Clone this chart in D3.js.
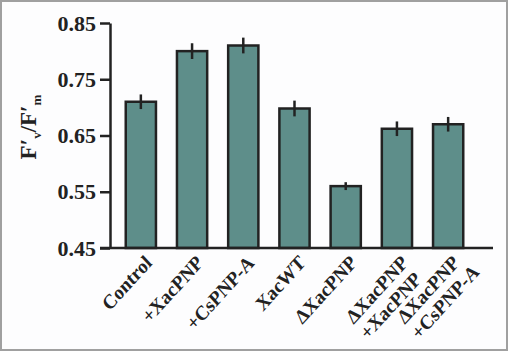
<!DOCTYPE html>
<html>
<head>
<meta charset="utf-8">
<script src="https://cdn.jsdelivr.net/npm/d3@7"></script>
<style>
  body { margin: 0; background: #fff; }
  text { font-family: "Liberation Serif", "Times New Roman", serif; font-weight: bold; fill: #222; }
</style>
</head>
<body>
<div class="chart"></div>
<script>
// Etichette e valori
const groups = ["Control", "+XacPNP", "+CsPNP-A", "XacWT", "ΔXacPNP", "ΔXacPNP|+XacPNP", "ΔXacPNP|+CsPNP-A"];
const values = [0.710, 0.800, 0.810, 0.698, 0.560, 0.662, 0.670];
const errors = [0.013, 0.014, 0.014, 0.014, 0.007, 0.013, 0.013];
const yTicks = [0.45, 0.55, 0.65, 0.75, 0.85];

const width = 509;
const height = 352;

const svg = d3.select('.chart').append('svg')
    .attr('width', width)
    .attr('height', height);

// cornice grigia
svg.append('rect')
    .attr('x', 1).attr('y', 1)
    .attr('width', width - 3).attr('height', height - 3)
    .attr('fill', '#fdfdfe')
    .attr('stroke', '#a0a0a0')
    .attr('stroke-width', 2);

const axisX = 110;
const baseY = 248;

const y = d3.scaleLinear()
    .domain([0.45, 0.85])
    .range([baseY, 23]);

const x = d3.scaleBand()
    .domain(groups)
    .range([115.5, 473.5])
    .paddingInner(0.41)
    .paddingOuter(0.2);

// asse y
const yAxis = svg.append('g')
    .attr('transform', `translate(${axisX},0)`)
    .call(d3.axisLeft(y).tickValues(yTicks).tickFormat(d3.format('.2f')).tickSize(10).tickSizeOuter(0));
yAxis.select('.domain').attr('stroke', '#222').attr('stroke-width', 2.5);
yAxis.selectAll('.tick line').attr('stroke', '#222').attr('stroke-width', 2.5);
yAxis.selectAll('.tick text')
    .attr('x', -14)
    .style('font-size', '22px')
    .style('font-family', '"Liberation Serif", serif')
    .style('font-weight', 'bold')
    .attr('fill', '#222');

// barre
svg.selectAll('rect.bar')
    .data(values)
    .enter()
    .append('rect')
    .attr('class', 'bar')
    .attr('x', (d, i) => x(groups[i]))
    .attr('y', d => y(d))
    .attr('width', x.bandwidth())
    .attr('height', d => baseY - y(d))
    .attr('fill', '#5e8e8a')
    .attr('stroke', '#222')
    .attr('stroke-width', 2.5);

// barre di errore
svg.selectAll('line.err')
    .data(values)
    .enter()
    .append('line')
    .attr('class', 'err')
    .attr('x1', (d, i) => x(groups[i]) + x.bandwidth() / 2)
    .attr('x2', (d, i) => x(groups[i]) + x.bandwidth() / 2)
    .attr('y1', (d, i) => y(d + errors[i]))
    .attr('y2', (d, i) => y(d - errors[i]))
    .attr('stroke', '#222')
    .attr('stroke-width', 2.5);

// linea di base
svg.append('line')
    .attr('x1', axisX - 10).attr('x2', 493)
    .attr('y1', baseY).attr('y2', baseY)
    .attr('stroke', '#222')
    .attr('stroke-width', 2.5);

// etichette asse x ruotate (l'originale e' un po' allungato in verticale):
// la prima riga finisce sotto la barra, le altre sono allineate al suo inizio
groups.forEach((g, i) => {
    const cx = x(g) + x.bandwidth() / 2;
    const lines = g.split('|');
    const lab = svg.append('g')
        .attr('transform', `translate(${cx + 12},${baseY + 16}) scale(1,1.1) rotate(-45)`);
    const first = lab.append('text')
        .style('font-size', '18.5px')
        .text(lines[0]);
    const len = first.node().getComputedTextLength();
    first.attr('x', -len);
    lines.slice(1).forEach((l, j) => {
        lab.append('text')
            .attr('x', -len)
            .attr('y', (j + 1) * 20)
            .style('font-size', '18.5px')
            .text(l);
    });
});

// titolo asse y: F'v/F'm
const yl = svg.append('text')
    .attr('transform', 'translate(36,127) rotate(-90)')
    .attr('text-anchor', 'middle')
    .style('font-size', '23px');
yl.append('tspan').text('F′');
yl.append('tspan').attr('dy', 5).style('font-size', '13px').text('v');
yl.append('tspan').attr('dy', -5).text('/F′');
yl.append('tspan').attr('dy', 5).style('font-size', '13px').text('m');
</script>
</body>
</html>
